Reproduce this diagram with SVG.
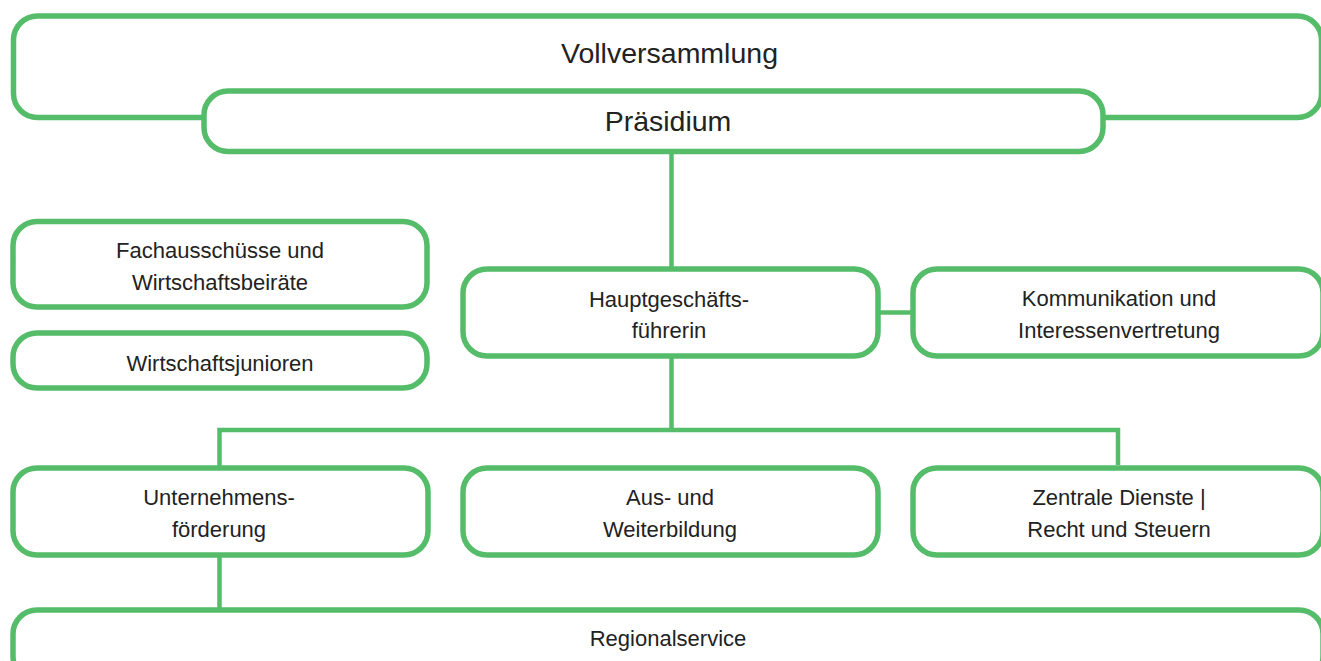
<svg xmlns="http://www.w3.org/2000/svg" width="1321" height="661" viewBox="0 0 1321 661">
<style>
.box{fill:#fff;stroke:#55bd69;stroke-width:5.5}
.con{fill:none;stroke:#55bd69;stroke-width:4.5}
text{font-family:"Liberation Sans",Arial,sans-serif;fill:#222;text-anchor:middle;font-size:22px}
.big{font-size:28.5px}
</style>
<rect width="1321" height="661" fill="#fff"/>
<g id="connectors">
<path class="con" d="M671.5 151V269"/>
<path class="con" d="M878 312.5H913"/>
<path class="con" d="M671.5 356V430M219.5 468V430H1118V465"/>
<path class="con" d="M219.5 555V610"/>
</g>
<g id="vollversammlung">
<rect class="box" x="13.5" y="16" width="1308" height="101.5" rx="24"/>
<text class="big" x="669.5" y="62.5">Vollversammlung</text>
</g>
<g id="praesidium">
<rect class="box" x="204" y="91" width="899" height="60.5" rx="24"/>
<text class="big" x="668" y="131">Präsidium</text>
</g>
<g id="fachausschuesse">
<rect class="box" x="13" y="221.5" width="414" height="85.5" rx="24"/>
<text x="220" y="258">Fachausschüsse und</text>
<text x="220" y="289.5">Wirtschaftsbeiräte</text>
</g>
<g id="wirtschaftsjunioren">
<rect class="box" x="13" y="333" width="414" height="55" rx="24"/>
<text x="220" y="371">Wirtschaftsjunioren</text>
</g>
<g id="hauptgeschaeftsfuehrerin">
<rect class="box" x="463" y="269" width="415" height="87" rx="24"/>
<text x="669" y="306.5">Hauptgeschäfts-</text>
<text x="669" y="338">führerin</text>
</g>
<g id="kommunikation">
<rect class="box" x="913" y="269" width="410" height="87" rx="24"/>
<text x="1119" y="306">Kommunikation und</text>
<text x="1119" y="338">Interessenvertretung</text>
</g>
<g id="unternehmensfoerderung">
<rect class="box" x="13" y="468" width="415" height="87" rx="24"/>
<text x="219" y="505">Unternehmens-</text>
<text x="219" y="536.5">förderung</text>
</g>
<g id="ausbildung">
<rect class="box" x="463" y="468" width="415" height="87" rx="24"/>
<text x="670" y="505">Aus- und</text>
<text x="670" y="536.5">Weiterbildung</text>
</g>
<g id="zentrale">
<rect class="box" x="913" y="468" width="410" height="87" rx="24"/>
<text x="1119" y="505">Zentrale Dienste |</text>
<text x="1119" y="536.5">Recht und Steuern</text>
</g>
<g id="regionalservice">
<rect class="box" x="13" y="610" width="1310" height="70" rx="24"/>
<text x="668" y="646">Regionalservice</text>
</g>
</svg>
